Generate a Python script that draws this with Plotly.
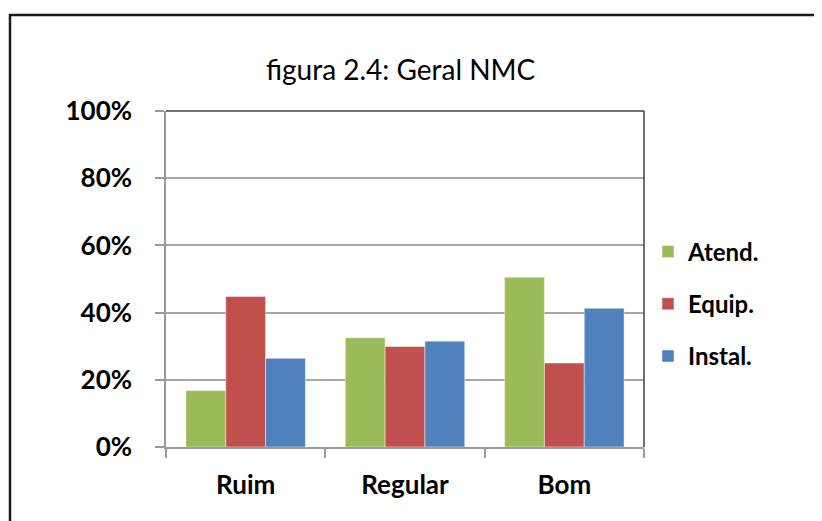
import plotly.graph_objects as go

# ── data ────────────────────────────────────────────────────────────────
categories = ["Ruim", "Regular", "Bom"]
atend = [0.168, 0.325, 0.505]
equip = [0.448, 0.299, 0.250]
instal = [0.264, 0.315, 0.413]
series_names = ["Atend.", "Equip.", "Instal."]
y_ticks = [0, 0.2, 0.4, 0.6, 0.8, 1.0]
y_tick_labels = ["0%", "20%", "40%", "60%", "80%", "100%"]

COLORS = ["#9BBB59", "#C0504D", "#4F81BD"]
FONT = "Lato"
W, H = 822, 521
OFF = 8                                   # page body margin in the browser
# plot area in screen px: x 166..644, y 111..447
L, T = 166 - OFF, 111 - OFF
R, B = W - (644 - OFF), H - (447 - OFF)
PW, PH = W - L - R, H - T - B


def px_x(x):
    return (x - OFF - L) / PW


def px_y(y):
    return (H - B - (y - OFF)) / PH


fig = go.Figure()
for name, vals, color in zip(series_names, [atend, equip, instal], COLORS):
    fig.add_trace(go.Bar(
        x=categories, y=vals, name=name, legendgroup=name,
        marker=dict(color=color, line=dict(color="rgba(255,255,255,0.45)", width=1)),
    ))

fig.update_layout(
    width=W, height=H,
    margin=dict(l=L, r=R, t=T, b=B, autoexpand=False),
    paper_bgcolor="white", plot_bgcolor="white",
    font=dict(family=FONT, color="black"),
    barmode="group", bargap=0.25, bargroupgap=0,
    showlegend=True,
    legend=dict(x=px_x(648), xanchor="left", y=px_y(304), yanchor="middle",
                font=dict(size=24, family=FONT, weight="bold"),
                tracegroupgap=18, traceorder="grouped",
                bgcolor="rgba(0,0,0,0)"),
    xaxis=dict(showline=True, linecolor="#9A9A9A", linewidth=1.5,
               ticks="outside", ticklen=9, tickcolor="#9A9A9A", tickwidth=1.5,
               tickson="boundaries", showgrid=False,
               tickfont=dict(size=26, family=FONT, weight="bold"),
               ticklabelstandoff=14),
    yaxis=dict(range=[0, 1], tickvals=y_ticks, ticktext=y_tick_labels,
               showline=True, linecolor="#9A9A9A", linewidth=1.5,
               ticks="outside", ticklen=9, tickcolor="#9A9A9A", tickwidth=1.5,
               showgrid=True, gridcolor="#A6A6A6", gridwidth=1.5, zeroline=False,
               tickfont=dict(size=26, family=FONT, weight="bold"),
               ticklabelstandoff=18),
)

# title
fig.add_annotation(text="figura 2.4: Geral NMC", xref="paper", yref="paper",
                   x=px_x(401), y=px_y(69), showarrow=False,
                   xanchor="center", yanchor="middle",
                   font=dict(size=28, family=FONT, color="black"))

# plot-area border: dark top and right edges
fig.add_shape(type="line", xref="paper", yref="paper", x0=0, x1=1, y0=1, y1=1,
              line=dict(color="#404040", width=1.5))
fig.add_shape(type="line", xref="paper", yref="paper", x0=1, x1=1, y0=0, y1=1,
              line=dict(color="#404040", width=1.5))

# outer chart frame (runs off the right and bottom edges)
fig.add_shape(type="rect", xref="paper", yref="paper",
              x0=px_x(10), x1=px_x(W + 20), y0=px_y(H + 20), y1=px_y(15),
              line=dict(color="#1A1A1A", width=2.5), fillcolor="rgba(0,0,0,0)")

fig.write_html("out.html")
